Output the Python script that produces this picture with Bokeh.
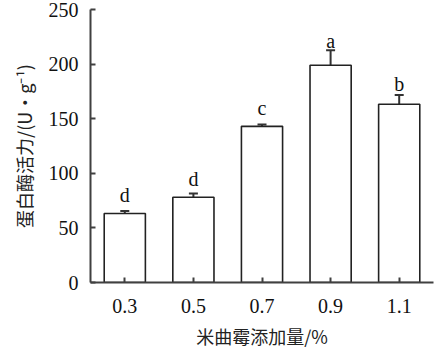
from bokeh.plotting import figure
from bokeh.layouts import row
from bokeh.models import ColumnDataSource, Whisker, TeeHead, FactorRange, Range1d, Spacer
from bokeh.core.properties import value
from bokeh.embed import file_html
from bokeh.resources import INLINE

levels = ["0.3", "0.5", "0.7", "0.9", "1.1"]
activity = [63.2, 78.1, 143.0, 199.0, 163.3]
errors = [2.3, 3.5, 1.8, 13.7, 8.4]
letters = ["d", "d", "c", "a", "b"]
letter_y = [80, 95, 160, 221, 182]

src = ColumnDataSource(dict(
    x=levels, top=activity,
    upper=[a + e for a, e in zip(activity, errors)],
    lower=[a - e for a, e in zip(activity, errors)],
    lab=letters, ly=letter_y,
))

p = figure(x_range=FactorRange(*levels, range_padding=0), y_range=Range1d(0, 250),
           width=428, height=351, output_backend="svg", toolbar_location=None,
           min_border_left=40, min_border_top=9, min_border_right=2, min_border_bottom=60)
p.outline_line_color = None
p.xgrid.visible = False
p.ygrid.visible = False
p.background_fill_color = "white"

p.vbar(x="x", top="top", width=0.6, source=src, fill_color="white",
       line_color="#222222", line_width=1.6)

w = Whisker(source=src, base="x", upper="upper", lower="lower",
            line_color="#333333", line_width=2,
            upper_head=TeeHead(size=9, line_color="#333333", line_width=2),
            lower_head=TeeHead(size=9, line_color="#333333", line_width=2))
p.add_layout(w)

p.text(x="x", y="ly", text="lab", source=src, text_align="center",
       text_baseline="alphabetic", text_font=value("Liberation Serif"),
       text_font_size="20px", text_color="#111111")

for ax in (p.xaxis[0], p.yaxis[0]):
    ax.axis_line_color = "#404040"
    ax.axis_line_width = 2
    ax.major_tick_line_color = "#404040"
    ax.major_tick_line_width = 2
    ax.major_tick_in = 5
    ax.major_tick_out = 0
    ax.minor_tick_line_color = None
    ax.major_label_text_font = "Liberation Serif"
    ax.major_label_text_font_size = "20px"
    ax.major_label_text_color = "#111111"
    ax.axis_label_text_font = "Noto Sans CJK SC"
    ax.axis_label_text_font_size = "18px"
    ax.axis_label_text_font_style = "normal"
    ax.axis_label_text_color = "#222222"

p.yaxis.ticker = [0, 50, 100, 150, 200, 250]
p.yaxis.major_label_standoff = 12
p.xaxis.major_label_standoff = 16
p.yaxis.axis_label = "蛋白酶活力/(U•g⁻¹)"
p.xaxis.axis_label = "米曲霉添加量/%"
p.yaxis.axis_label_standoff = 9
p.xaxis.axis_label_standoff = 7

layout = row(Spacer(width=7, height=351), p)
open("out.html", "w").write(file_html(layout, INLINE))
